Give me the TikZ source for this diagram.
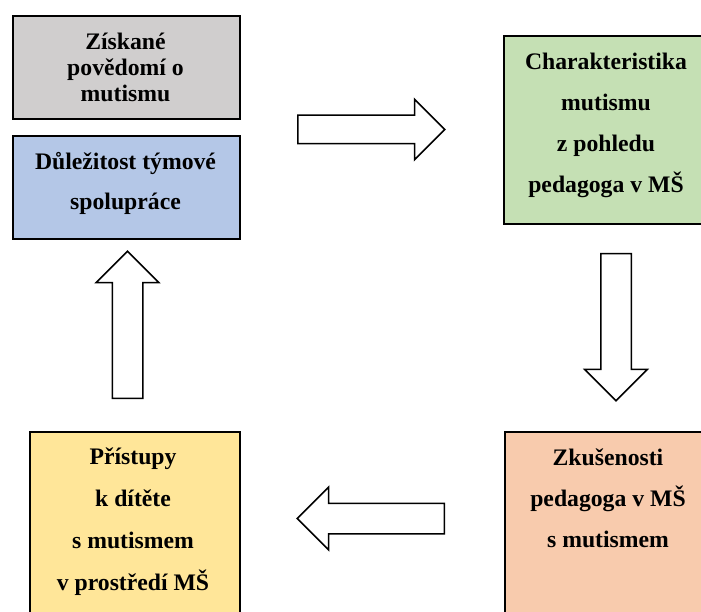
\documentclass[tikz,border=0pt]{standalone}
\usepackage{fontspec}
\setmainfont{Liberation Serif}
\usetikzlibrary{shapes.arrows}
\definecolor{BoxGrey}{RGB}{208,206,206}
\definecolor{BoxBlue}{RGB}{180,199,231}
\definecolor{BoxGreen}{RGB}{197,224,180}
\definecolor{BoxYellow}{RGB}{255,230,153}
\definecolor{BoxOrange}{RGB}{248,203,173}

\begin{document}
\begin{tikzpicture}[x=1pt, y=-1pt,
        box/.style={draw, line width=2pt, anchor=north west, inner sep=0pt},
        boxtext/.style={anchor=base, align=center, font=\fontsize{23.7}{41}\selectfont\bfseries},
        blockarrow/.style={draw, line width=1.5pt, fill=white, single arrow, single arrow head extend=16pt,
            inner xsep=0pt, inner ysep=14.5pt, minimum height=147pt, anchor=tail}]
                \useasboundingbox (0,0) rectangle (701,612);
                \clip (0,0) rectangle (701,612);
                % boxes
                \node[box, fill=BoxGrey, minimum width=227pt, minimum height=103pt] (povedomi) at (12,15) {};
                \node[box, fill=BoxBlue, minimum width=227pt, minimum height=103pt] (spoluprace) at (12,135) {};
                \node[box, fill=BoxGreen, minimum width=207pt, minimum height=188pt] (charakteristika) at (503,35) {};
                \node[box, fill=BoxYellow, minimum width=210pt, minimum height=210pt] (pristupy) at (29,431) {};
                \node[box, fill=BoxOrange, minimum width=208pt, minimum height=210pt] (zkusenosti) at (504,431) {};
                % texts, placed by the baseline of their last line
                \node[boxtext, font=\fontsize{23.7}{26}\selectfont\bfseries] (povedomitxt) at (125.5,102) {Získané\\povědomí o\\mutismu};
                \node[boxtext, font=\fontsize{23.7}{40}\selectfont\bfseries] (spoluprtxt) at (125.5,210) {Důležitost týmové\\spolupráce};
                \node[boxtext] (chartxt) at (606,193) {Charakteristika\\mutismu\\z pohledu\\pedagoga v MŠ};
                \node[boxtext, font=\fontsize{23.7}{41.7}\selectfont\bfseries] (pristtxt) at (133,590) {Přístupy\\k dítěte\\s mutismem\\v prostředí MŠ};
                \node[boxtext] (zkustxt) at (608,547) {Zkušenosti\\pedagoga v MŠ\\s mutismem};
                % arrows
                \node[blockarrow, inner ysep=13.5pt] (vpravo) at (297,129.5) {};
                \node[blockarrow, rotate=-90] (dolu) at (616,253) {};
                \node[blockarrow, rotate=180] (vlevo) at (445,518.5) {};
                \node[blockarrow, rotate=90] (nahoru) at (127.5,399) {};
            \end{tikzpicture}
\end{document}
